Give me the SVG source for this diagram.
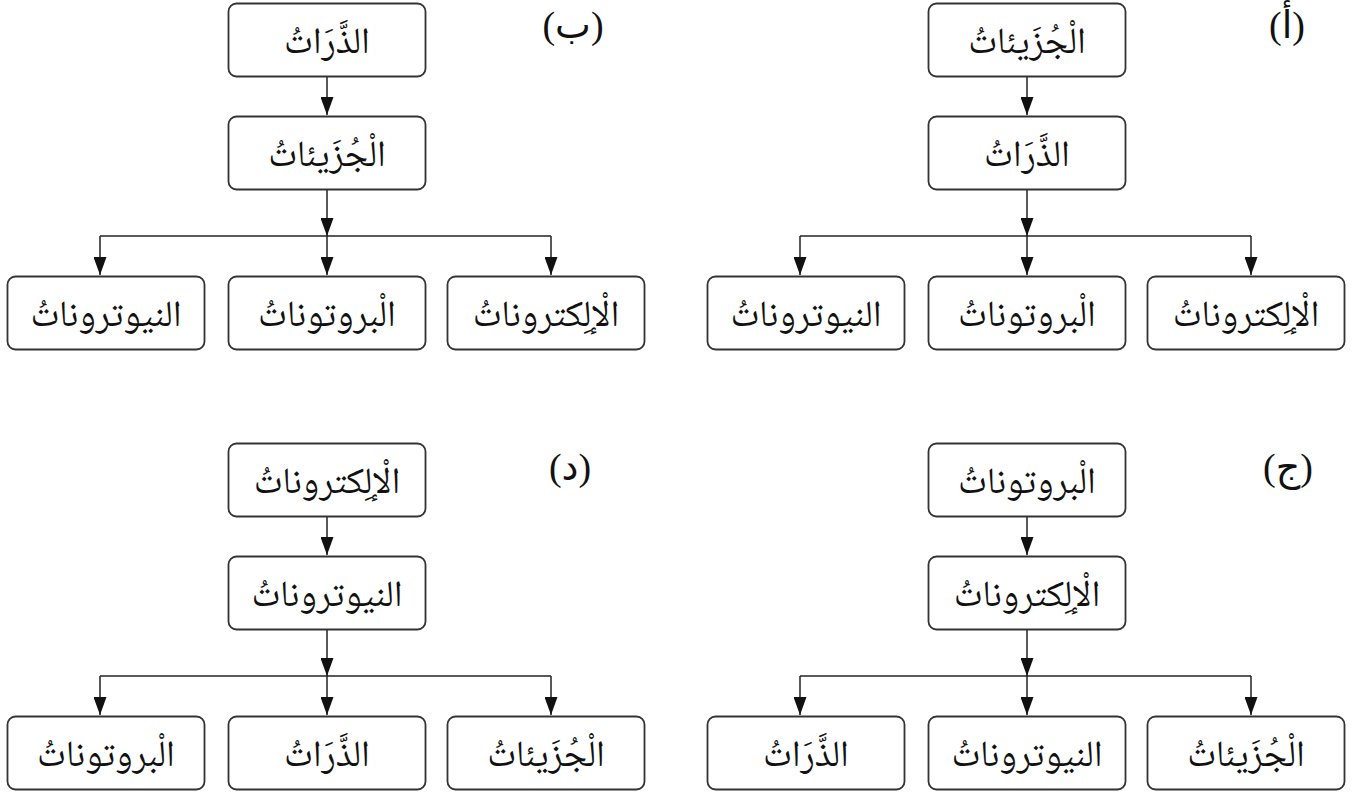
<svg xmlns="http://www.w3.org/2000/svg" width="1354" height="794" viewBox="0 0 1354 794">
<style>
.box{fill:#fff;stroke:#333;stroke-width:1.8}
.t{font-family:"Noto Naskh Arabic","DejaVu Sans",sans-serif;font-size:37px;fill:#111;text-anchor:middle}
.lbl{font-family:"Liberation Serif","DejaVu Sans",serif;font-size:38px;fill:#111;text-anchor:middle}
.c{fill:none;stroke:#222;stroke-width:1.5}
</style>
<defs>
<marker id="ah" markerUnits="userSpaceOnUse" markerWidth="18" markerHeight="13" refX="18" refY="6.5" orient="auto">
<path d="M0,0 L18,6.5 L0,13 z" fill="#111"/>
</marker>
</defs>
<rect width="1354" height="794" fill="#fff"/>

<g id="connectors">
<line class="c" x1="327" y1="76" x2="327" y2="115" marker-end="url(#ah)"/>
<line class="c" x1="327" y1="189" x2="327" y2="236" marker-end="url(#ah)"/>
<line class="c" x1="100" y1="236" x2="551" y2="236"/>
<line class="c" x1="100" y1="236" x2="100" y2="275" marker-end="url(#ah)"/>
<line class="c" x1="327" y1="236" x2="327" y2="275" marker-end="url(#ah)"/>
<line class="c" x1="551" y1="236" x2="551" y2="275" marker-end="url(#ah)"/>
<line class="c" x1="1027" y1="76" x2="1027" y2="115" marker-end="url(#ah)"/>
<line class="c" x1="1027" y1="189" x2="1027" y2="236" marker-end="url(#ah)"/>
<line class="c" x1="800" y1="236" x2="1251" y2="236"/>
<line class="c" x1="800" y1="236" x2="800" y2="275" marker-end="url(#ah)"/>
<line class="c" x1="1027" y1="236" x2="1027" y2="275" marker-end="url(#ah)"/>
<line class="c" x1="1251" y1="236" x2="1251" y2="275" marker-end="url(#ah)"/>
<line class="c" x1="327" y1="516" x2="327" y2="555" marker-end="url(#ah)"/>
<line class="c" x1="327" y1="629" x2="327" y2="676" marker-end="url(#ah)"/>
<line class="c" x1="100" y1="676" x2="551" y2="676"/>
<line class="c" x1="100" y1="676" x2="100" y2="715" marker-end="url(#ah)"/>
<line class="c" x1="327" y1="676" x2="327" y2="715" marker-end="url(#ah)"/>
<line class="c" x1="551" y1="676" x2="551" y2="715" marker-end="url(#ah)"/>
<line class="c" x1="1027" y1="516" x2="1027" y2="555" marker-end="url(#ah)"/>
<line class="c" x1="1027" y1="629" x2="1027" y2="676" marker-end="url(#ah)"/>
<line class="c" x1="800" y1="676" x2="1251" y2="676"/>
<line class="c" x1="800" y1="676" x2="800" y2="715" marker-end="url(#ah)"/>
<line class="c" x1="1027" y1="676" x2="1027" y2="715" marker-end="url(#ah)"/>
<line class="c" x1="1251" y1="676" x2="1251" y2="715" marker-end="url(#ah)"/>
</g>

<g id="labels">
<text class="lbl" x="573" y="38">(ب)</text>
<text class="lbl" x="1287" y="38">(أ)</text>
<text class="lbl" x="570" y="480">(د)</text>
<text class="lbl" x="1288" y="480">(ج)</text>
</g>

<g id="b-top"><rect class="box" x="228.5" y="3.5" width="197" height="73" rx="8"/><text class="t" x="327" y="53" direction="rtl">الذَّرَاتُ</text></g>
<g id="b-mid"><rect class="box" x="228.5" y="116.5" width="197" height="73" rx="8"/><text class="t" x="327" y="166" direction="rtl">الْجُزَيئاتُ</text></g>
<g id="b-left"><rect class="box" x="7.5" y="276.5" width="197" height="73" rx="8"/><text class="t" x="106" y="326" direction="rtl">النيوتروناتُ</text></g>
<g id="b-center"><rect class="box" x="228.5" y="276.5" width="197" height="73" rx="8"/><text class="t" x="327" y="326" direction="rtl">الْبروتوناتُ</text></g>
<g id="b-right"><rect class="box" x="447.5" y="276.5" width="197" height="73" rx="8"/><text class="t" x="546" y="326" direction="rtl">الْإلِكتروناتُ</text></g>

<g id="a-top"><rect class="box" x="928.5" y="3.5" width="197" height="73" rx="8"/><text class="t" x="1027" y="53" direction="rtl">الْجُزَيئاتُ</text></g>
<g id="a-mid"><rect class="box" x="928.5" y="116.5" width="197" height="73" rx="8"/><text class="t" x="1027" y="166" direction="rtl">الذَّرَاتُ</text></g>
<g id="a-left"><rect class="box" x="707.5" y="276.5" width="197" height="73" rx="8"/><text class="t" x="806" y="326" direction="rtl">النيوتروناتُ</text></g>
<g id="a-center"><rect class="box" x="928.5" y="276.5" width="197" height="73" rx="8"/><text class="t" x="1027" y="326" direction="rtl">الْبروتوناتُ</text></g>
<g id="a-right"><rect class="box" x="1147.5" y="276.5" width="197" height="73" rx="8"/><text class="t" x="1246" y="326" direction="rtl">الْإلِكتروناتُ</text></g>

<g id="d-top"><rect class="box" x="228.5" y="443.5" width="197" height="73" rx="8"/><text class="t" x="327" y="493" direction="rtl">الْإلِكتروناتُ</text></g>
<g id="d-mid"><rect class="box" x="228.5" y="556.5" width="197" height="73" rx="8"/><text class="t" x="327" y="606" direction="rtl">النيوتروناتُ</text></g>
<g id="d-left"><rect class="box" x="7.5" y="716.5" width="197" height="73" rx="8"/><text class="t" x="106" y="766" direction="rtl">الْبروتوناتُ</text></g>
<g id="d-center"><rect class="box" x="228.5" y="716.5" width="197" height="73" rx="8"/><text class="t" x="327" y="766" direction="rtl">الذَّرَاتُ</text></g>
<g id="d-right"><rect class="box" x="447.5" y="716.5" width="197" height="73" rx="8"/><text class="t" x="546" y="766" direction="rtl">الْجُزَيئاتُ</text></g>

<g id="j-top"><rect class="box" x="928.5" y="443.5" width="197" height="73" rx="8"/><text class="t" x="1027" y="493" direction="rtl">الْبروتوناتُ</text></g>
<g id="j-mid"><rect class="box" x="928.5" y="556.5" width="197" height="73" rx="8"/><text class="t" x="1027" y="606" direction="rtl">الْإلِكتروناتُ</text></g>
<g id="j-left"><rect class="box" x="707.5" y="716.5" width="197" height="73" rx="8"/><text class="t" x="806" y="766" direction="rtl">الذَّرَاتُ</text></g>
<g id="j-center"><rect class="box" x="928.5" y="716.5" width="197" height="73" rx="8"/><text class="t" x="1027" y="766" direction="rtl">النيوتروناتُ</text></g>
<g id="j-right"><rect class="box" x="1147.5" y="716.5" width="197" height="73" rx="8"/><text class="t" x="1246" y="766" direction="rtl">الْجُزَيئاتُ</text></g>
</svg>
